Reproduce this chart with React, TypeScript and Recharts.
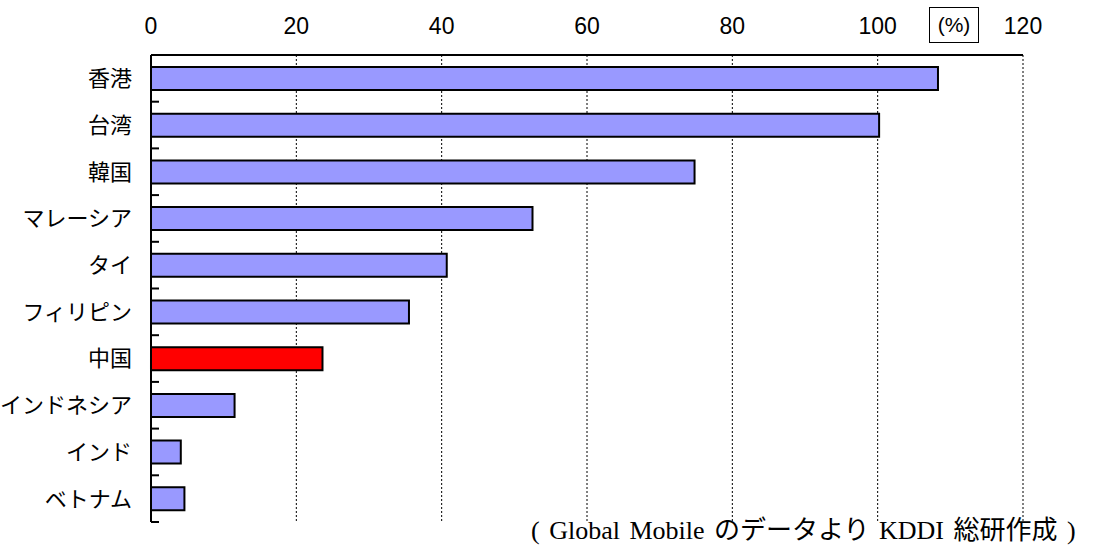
import { Bar, BarChart, CartesianGrid, Cell, XAxis, YAxis } from "recharts";

// 普及率 (%) — 上から順に
const countries = ["香港", "台湾", "韓国", "マレーシア", "タイ", "フィリピン", "中国", "インドネシア", "インド", "ベトナム"];
const rates = [108.3, 100.2, 74.8, 52.5, 40.7, 35.5, 23.6, 11.5, 4.1, 4.6];
const highlight = "中国";
const xTicks = [0, 20, 40, 60, 80, 100, 120];

const W = 1094;
const H = 549;
const TOP = 55; // 上の軸の高さ
const BOTTOM = 27;
const LEFT = 151; // Y 軸の幅
const RIGHT = 71;
const BAND = (H - TOP - BOTTOM) / countries.length;

const BLUE = "#9999FF";
const RED = "#FF0000";
const JP = '"Noto Sans CJK JP", "Liberation Sans", sans-serif';
const SANS = '"Liberation Sans", Arial, sans-serif';

const data = countries.map((name, i) => ({ name, rate: rates[i] }));

// 上の目盛りラベル
function PercentTick(props: any) {
  const { x, y, payload } = props;
  return (
    <text x={x} y={y} textAnchor="middle" fontSize={23} fontFamily={SANS} fill="#000">
      {payload.value}
    </text>
  );
}

// ラベルは右寄せ、目盛りは区切りの位置に内向きで描く
function CountryTick(props: any) {
  const { x, y, payload, index } = props;
  const last = index === countries.length - 1;
  return (
    <g>
      <text x={x} y={y} dy="0.36em" textAnchor="end" fontSize={22} fontFamily={JP} fill="#000">
        {payload.value}
      </text>
      <line x1={LEFT} x2={LEFT + 8} y1={y - BAND / 2} y2={y - BAND / 2} stroke="#000" strokeWidth={2} />
      {last ? (
        <line x1={LEFT} x2={LEFT + 8} y1={y + BAND / 2} y2={y + BAND / 2} stroke="#000" strokeWidth={2} />
      ) : null}
    </g>
  );
}

export default function App() {
  return (
    <div style={{ position: "absolute", left: 0, top: 0, width: W, height: H, background: "#fff" }}>
      <BarChart
        width={W}
        height={H}
        data={data}
        layout="vertical"
        margin={{ top: 0, right: RIGHT, bottom: BOTTOM, left: 0 }}
      >
        <CartesianGrid horizontal={false} stroke="#000" strokeDasharray="2 2" strokeWidth={1} />
        <XAxis
          type="number"
          orientation="top"
          domain={[0, 120]}
          ticks={xTicks}
          interval={0}
          height={TOP}
          stroke="#000"
          axisLine={{ stroke: "#000", strokeWidth: 2 }}
          tickLine={false}
          tickSize={0}
          tickMargin={21}
          tick={<PercentTick />}
        />
        <YAxis
          type="category"
          dataKey="name"
          width={LEFT}
          axisLine={{ stroke: "#000", strokeWidth: 2 }}
          tickLine={false}
          tickSize={0}
          tickMargin={19}
          interval={0}
          tick={<CountryTick />}
        />
        <Bar dataKey="rate" barSize={23} stroke="#000" strokeWidth={2} isAnimationActive={false}>
          {data.map((d) => (
            <Cell key={d.name} fill={d.name === highlight ? RED : BLUE} />
          ))}
        </Bar>
      </BarChart>
      <div
        style={{
          position: "absolute",
          left: 929,
          top: 7,
          width: 48,
          height: 34,
          border: "1px solid #000",
          display: "flex",
          alignItems: "center",
          justifyContent: "center",
          fontFamily: '"Liberation Sans Narrow", "Liberation Sans", sans-serif',
          fontSize: 21,
        }}
      >
        (%)
      </div>
      <div
        style={{
          position: "absolute",
          left: 531,
          top: 515,
          whiteSpace: "nowrap",
          fontFamily: '"Liberation Serif", "Noto Sans CJK JP", serif',
          fontSize: 26,
          lineHeight: "32px",
          wordSpacing: 3,
        }}
      >
        ( Global Mobile のデータより KDDI 総研作成 )
      </div>
    </div>
  );
}
